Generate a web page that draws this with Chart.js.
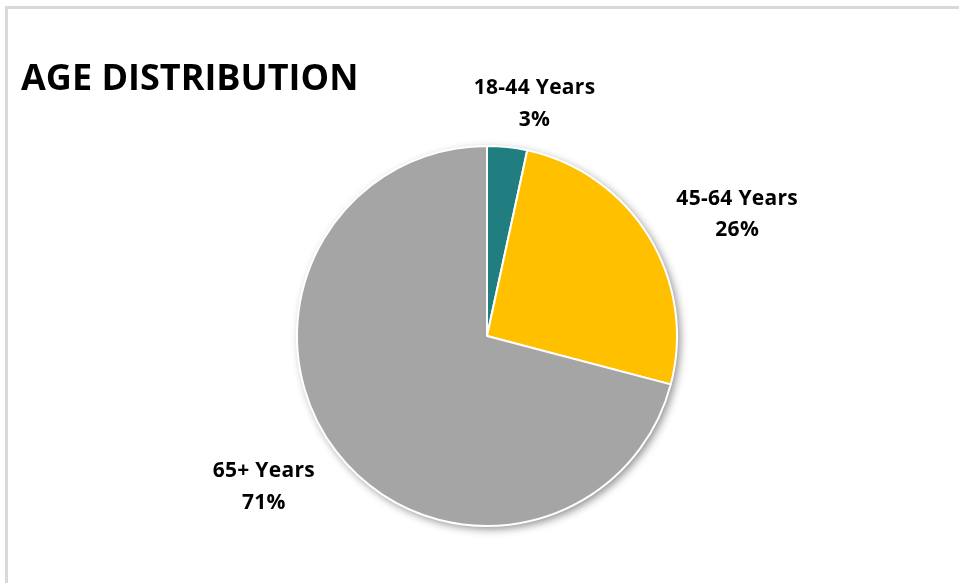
<!DOCTYPE html>
<html>
<head>
<meta charset="utf-8">
<script src="https://cdn.jsdelivr.net/npm/chart.js@4"></script>
<style>
	body { margin: 0; background: #fff; }
	#wrap { position: relative; width: 959px; height: 583px; }
	#frame { position: absolute; left: 5px; top: 6px; right: 0; bottom: 0;
	         border-top: 3px solid #d9d9d9; border-left: 3px solid #d9d9d9; }
	canvas { position: absolute; left: 0; top: 0; }
</style>
</head>
<body>
<div id="wrap">
	<div id="frame"></div>
	<canvas id="age-viz" width="959" height="583"></canvas>
</div>
<script>
// Age distribution (percent)
var ageLabels = [ '18-44 Years', '45-64 Years', '65+ Years' ];
var ageValues = [ 3.4, 25.7, 70.9 ];
var ageColors = [ '#217e80', '#ffc000', '#a5a5a5' ];

var chartTitle = 'AGE DISTRIBUTION';

// where each label sits: angle nudge (deg) off the slice middle, distance as multiple of radius
var labelPlace = [ { nudge: 5.1, dist: 1.286 }, { nudge: 4.2, dist: 1.482 }, { nudge: 4.9, dist: 1.396 } ];

// soft shadow under the whole pie, like the office chart
var pieShadow = {
	id: 'pieShadow',
	beforeDatasetsDraw: function(chart) {
		var arc = chart.getDatasetMeta(0).data[0];
		if (!arc) return;
		var ctx = chart.ctx;
		ctx.save();
		ctx.shadowColor = 'rgba(0,0,0,0.45)';
		ctx.shadowBlur = 9;
		ctx.shadowOffsetX = 3;
		ctx.shadowOffsetY = 3;
		ctx.fillStyle = '#fff';
		ctx.beginPath();
		ctx.arc(arc.x, arc.y, arc.outerRadius, 0, Math.PI * 2);
		ctx.fill();
		ctx.restore();
	}
};

// title and the two-line data labels
var pieText = {
	id: 'pieText',
	afterDraw: function(chart) {
		var ctx = chart.ctx;
		ctx.save();
		ctx.fillStyle = '#000';
		ctx.textBaseline = 'alphabetic';
		ctx.textAlign = 'left';
		ctx.font = 'bold 36px "Open Sans"';
		ctx.fillText(chartTitle, 21, 90);

		var total = ageValues.reduce(function(a, b) { return a + b; }, 0);
		ctx.font = 'bold 21px "Open Sans"';
		ctx.letterSpacing = '0.3px';
		ctx.textAlign = 'center';
		chart.getDatasetMeta(0).data.forEach(function(arc, i) {
			var mid = (arc.startAngle + arc.endAngle) / 2 + labelPlace[i].nudge * Math.PI / 180;
			var r = arc.outerRadius * labelPlace[i].dist;
			var x = arc.x + Math.cos(mid) * r;
			var y = arc.y + Math.sin(mid) * r;
			ctx.fillText(ageLabels[i], x, y - 2);
			ctx.fillText(Math.round(ageValues[i] / total * 100) + '%', x, y + 29.5);
		});
		ctx.restore();
	}
};

var ctx = document.getElementById('age-viz');
new Chart(ctx, {
	type: 'pie',
	data: {
		labels: ageLabels,
		datasets: [ {
			data: ageValues,
			backgroundColor: ageColors,
			borderColor: '#ffffff',
			borderWidth: 2
		} ]
	},
	options: {
		responsive: false,
		animation: false,
		layout: { padding: { left: 296, right: 281, top: 145, bottom: 56 } },
		plugins: {
			legend: { display: false },
			tooltip: { enabled: false },
			title: { display: false }
		}
	},
	plugins: [ pieShadow, pieText ]
});
</script>
</body>
</html>
